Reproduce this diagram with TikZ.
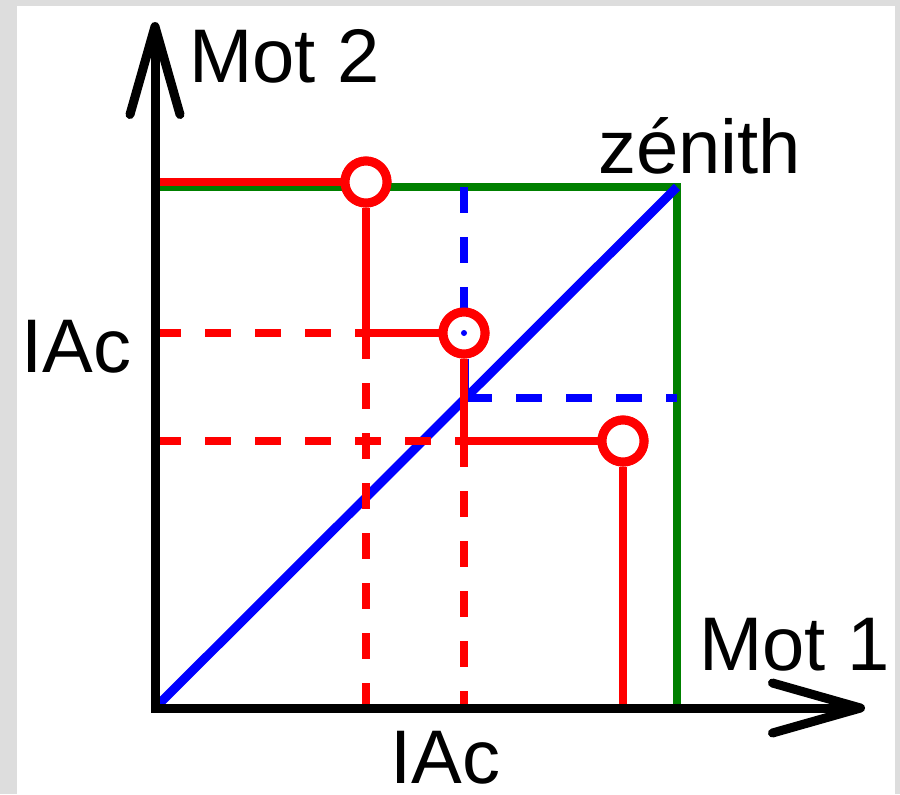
\documentclass[tikz,border=0pt]{standalone}
\usepackage{fontspec}
\setmainfont{Liberation Sans}
\usetikzlibrary{arrows.meta,positioning}

\definecolor{rouge}{RGB}{255,0,0}
\definecolor{bleu}{RGB}{0,0,255}
\definecolor{vert}{RGB}{0,128,0}
\definecolor{cadre}{RGB}{221,221,221}

\begin{document}
\begin{tikzpicture}[x=0.5pt, y=-0.5pt,
    axis/.style={line width=4.5pt, line join=miter,
        arrows={Straight Barb[length=44pt,width=25pt,round]-Straight Barb[length=44pt,width=25pt,round]}},
    trait/.style={line width=4pt},
    tirets/.style={line width=4pt, dash pattern=on 13pt off 12pt},
    pt/.style={circle, draw=rouge, fill=white, line width=4.5pt, inner sep=0pt, minimum size=21pt},
    lbl/.style={anchor=base west, inner sep=0pt, font=\fontsize{38}{44}\selectfont}]

    % Frame and bounding box
    \useasboundingbox[fill=cadre] (0,0) rectangle (900,794);
    \fill[white] (17,6) rectangle (895,794);

    % Define the main coordinates
    \coordinate (O) at (155,708);
    \coordinate (ytip) at (155,22);
    \coordinate (xtip) at (865,708);
    \coordinate (Z) at (677,187);
    \coordinate (gtop) at (155,187);
    \coordinate (gbot) at (677,708);

    % Red points
    \node[pt] (p1) at (366,182) {};
    \node[pt] (p2) at (464,333) {};
    \node[pt] (p3) at (623,441) {};

    % Corners of the red lines
    \coordinate (a1) at (366,333);
    \coordinate (a2) at (464,441);
    \coordinate (l1) at (155,182);
    \coordinate (l2) at (155,333);
    \coordinate (l3) at (155,441);
    \coordinate (b1) at (366,708);
    \coordinate (b2) at (464,708);
    \coordinate (b3) at (623,708);

    % Blue guides
    \coordinate (c1) at (464,187);
    \coordinate (c2) at (466,398);
    \coordinate (c3) at (677,398);

    % Draw the green square
    \draw[trait, vert] (gtop) -- (Z) -- (gbot);

    % Draw the blue diagonal and its dashed guides
    \draw[trait, bleu, line width=4.5pt] (O) -- (Z);
    \draw[tirets, bleu] (c1) -- (p2.north);
    \draw[tirets, bleu] (c2) -- (c3);
    \draw[trait, bleu, line width=3pt] (c2) -- ([xshift=1pt]p2.south);

    % Draw the red lines
    \draw[trait, rouge] (l1) -- (p1);
    \draw[trait, rouge] (p1) -- (a1) -- (p2);
    \draw[trait, rouge] (p2) -- (a2) -- (p3);
    \draw[trait, rouge] (p3) -- (b3);
    \draw[tirets, rouge] (l2) -- (a1);
    \draw[tirets, rouge] (a1) -- (b1);
    \draw[tirets, rouge] (l3) -- (a2);
    \draw[tirets, rouge] (a2) -- (b2);

    % Redraw the points over the lines
    \node[pt] at (p1) {};
    \node[pt] at (p2) {};
    \node[pt] at (p3) {};
    \fill[bleu] (p2) circle (3);

    % Draw the X and Y axes
    \draw[axis] (ytip) -- (O) -- (xtip);

    % Labels
    \node[lbl] (mot2) at (189,82) {Mot 2};
    \node[lbl] (zenith) at (598,173) {zénith};
    \node[lbl] (iacy) at (21,372) {IAc};
    \node[lbl] (iacx) at (390,783) {IAc};
    \node[lbl] (mot1) at (699,670) {Mot 1};

\end{tikzpicture}
\end{document}
